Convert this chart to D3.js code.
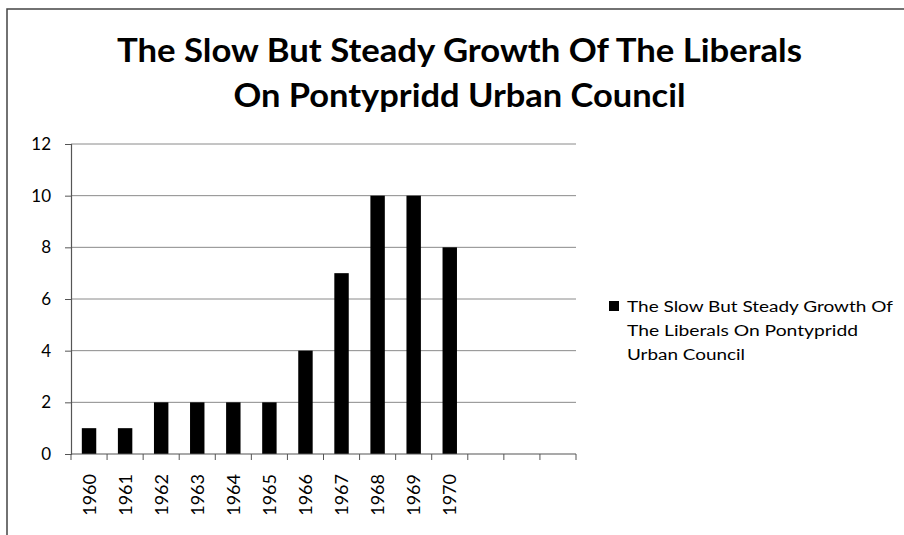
<!DOCTYPE html>
<html>
<head>
<meta charset="utf-8">
<script src="https://cdn.jsdelivr.net/npm/d3@7"></script>
<style>
  html, body { margin: 0; padding: 0; background: #fff; }
  svg { display: block; }
  text { font-family: Lato, "Open Sans", sans-serif; fill: #000; }
</style>
</head>
<body>
<svg id="chart" width="904" height="535"></svg>
<script>
// ---- data ----
const titleLines = ["The Slow But Steady Growth Of The Liberals", "On Pontypridd Urban Council"];
const legendLines = ["The Slow But Steady Growth Of", "The Liberals On Pontypridd", "Urban Council"];
const categories = ["1960","1961","1962","1963","1964","1965","1966","1967","1968","1969","1970","","",""];
const values = [1, 1, 2, 2, 2, 2, 4, 7, 10, 10, 8];
const yTicks = [0, 2, 4, 6, 8, 10, 12];

// ---- layout ----
const W = 904, H = 535;
const plot = { left: 71, right: 576, top: 144, bottom: 454 };
const svg = d3.select("#chart");

// frame (partially cropped)
svg.append("path")
  .attr("d", `M7,${H} L7,9 L${W},9`)
  .attr("fill", "none").attr("stroke", "#444").attr("stroke-width", 1.5);

// title
const titleY = [62, 107];
const titleW = [685, 452];
svg.selectAll("text.title").data(titleLines).join("text")
  .attr("class", "title")
  .attr("x", 459.5).attr("y", (d, i) => titleY[i])
  .attr("text-anchor", "middle")
  .attr("font-size", 33).attr("font-weight", "bold")
  .attr("textLength", (d, i) => titleW[i])
  .attr("lengthAdjust", "spacingAndGlyphs")
  .text(d => d);

// scales
const x = d3.scaleBand()
  .domain(d3.range(categories.length))
  .range([plot.left, plot.right])
  .paddingInner(0.6).paddingOuter(0.3);
const y = d3.scaleLinear().domain([0, 12]).range([plot.bottom, plot.top]);

// gridlines
svg.append("g").selectAll("line").data(yTicks.filter(t => t > 0)).join("line")
  .attr("x1", plot.left).attr("x2", plot.right)
  .attr("y1", d => y(d)).attr("y2", d => y(d))
  .attr("stroke", "#8a8a8a").attr("stroke-width", 1);

// y axis
const yAxis = d3.axisLeft(y).tickValues(yTicks).tickSize(6).tickPadding(14).tickFormat(d3.format("d"));
const gy = svg.append("g").attr("transform", `translate(${plot.left},0)`).call(yAxis);
gy.attr("font-size", null).attr("font-family", null);
gy.select(".domain").attr("stroke", "#555").attr("stroke-width", 1.2);
gy.selectAll(".tick line").attr("stroke", "#555");
gy.selectAll(".tick text").attr("font-size", 17).attr("fill", "#000");

// bars
svg.append("g").selectAll("rect").data(values).join("rect")
  .attr("x", (d, i) => x(i))
  .attr("width", x.bandwidth())
  .attr("y", d => y(d))
  .attr("height", d => y(0) - y(d))
  .attr("fill", "#000");

// x axis line
svg.append("line")
  .attr("x1", plot.left).attr("x2", plot.right)
  .attr("y1", y(0)).attr("y2", y(0))
  .attr("stroke", "#555").attr("stroke-width", 1.2);

// category boundary ticks
const boundaryX = d3.range(categories.length + 1).map(i => x.range()[0] + i * x.step());
svg.append("g").selectAll("line").data(boundaryX).join("line")
  .attr("x1", d => d).attr("x2", d => d)
  .attr("y1", y(0)).attr("y2", y(0) + 6)
  .attr("stroke", "#555");

// x labels (rotated)
svg.append("g").selectAll("text").data(categories).join("text")
  .attr("transform", (d, i) => `translate(${x(i) + x.bandwidth() / 2 + 6.5},474) rotate(-90)`)
  .attr("text-anchor", "end")
  .attr("font-size", 18)
  .text(d => d);

// legend
svg.append("rect")
  .attr("x", 609).attr("y", 301).attr("width", 10).attr("height", 10)
  .attr("fill", "#000");
const legendY = [312, 336, 360];
const legendW = [266, 231, 118];
svg.selectAll("text.leg").data(legendLines).join("text")
  .attr("class", "leg")
  .attr("x", 627).attr("y", (d, i) => legendY[i])
  .attr("font-size", 15.5)
  .attr("textLength", (d, i) => legendW[i])
  .attr("lengthAdjust", "spacingAndGlyphs")
  .text(d => d);
</script>
</body>
</html>
